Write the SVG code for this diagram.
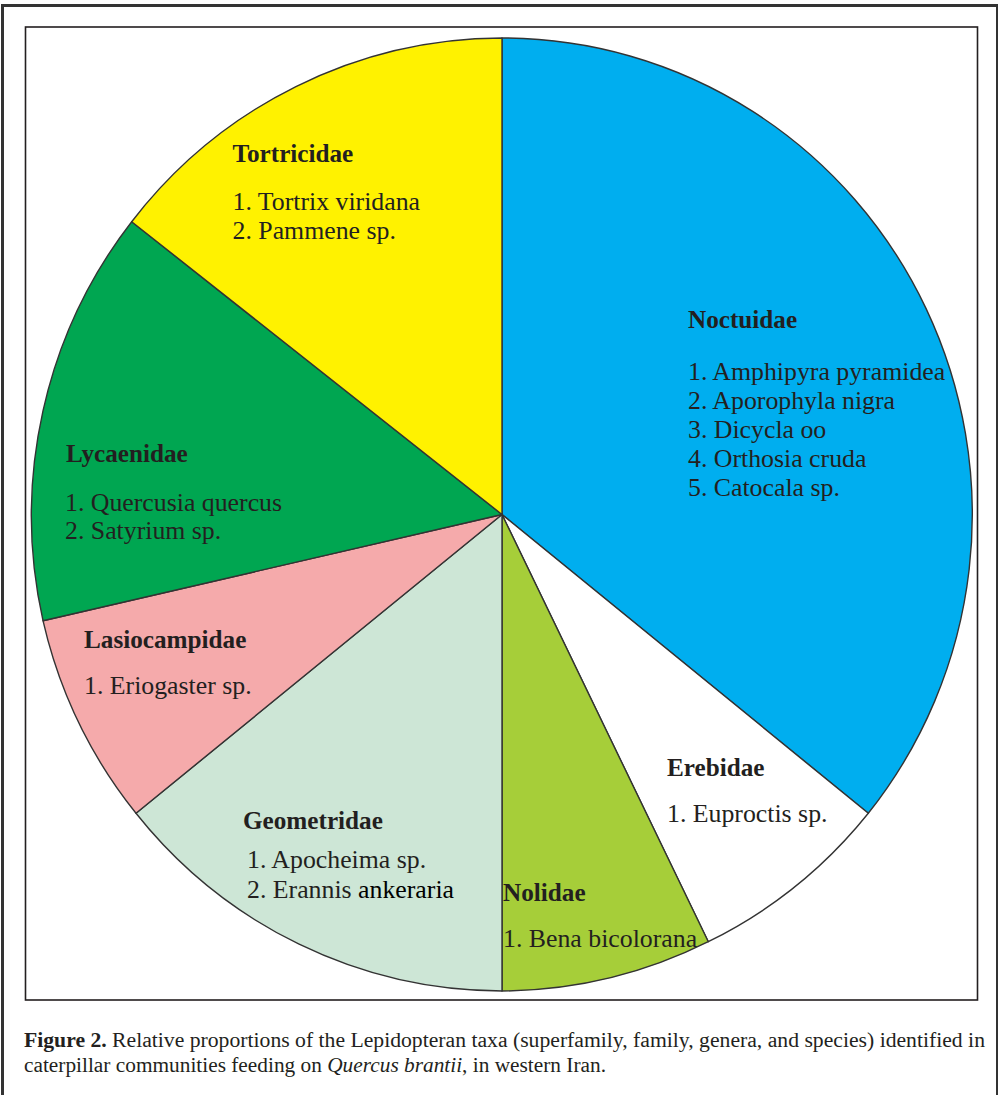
<svg xmlns="http://www.w3.org/2000/svg" width="998" height="1095" viewBox="0 0 998 1095">
<style>
.sl{stroke:#333;stroke-width:1.4;stroke-linejoin:round}
.h{font-family:"Liberation Serif","Times New Roman",serif;font-weight:bold;font-size:25.2px;fill:#231F20}
.t{font-family:"Liberation Serif","Times New Roman",serif;font-size:25.8px;fill:#231F20}
.c{font-family:"Liberation Serif","Times New Roman",serif;font-size:20px;fill:#231F20}
</style>
<rect x="0" y="0" width="998" height="1095" fill="#fff"/>
<rect x="2.5" y="5.5" width="995" height="1100" fill="none" stroke="#333" stroke-width="3"/>
<rect x="25.5" y="27" width="952" height="973" fill="none" stroke="#231F20" stroke-width="1.6"/>
<g id="noctuidae">
<path class="sl" fill="#00AEEF" d="M502,514.5 L502,38 A470.5,476.5 0 0,1 868.3,813.3 Z"/>
<text class="h" x="688" y="328">Noctuidae</text>
<text class="t" x="688" y="380">1. Amphipyra pyramidea</text>
<text class="t" x="688" y="409">2. Aporophyla nigra</text>
<text class="t" x="688" y="438">3. Dicycla oo</text>
<text class="t" x="688" y="467">4. Orthosia cruda</text>
<text class="t" x="688" y="496">5. Catocala sp.</text>
</g>
<g id="erebidae">
<path class="sl" fill="#FFFFFF" d="M502,514.5 L868.3,813.3 A470.5,476.5 0 0,1 708.3,941.7 Z"/>
<text class="h" x="667" y="776">Erebidae</text>
<text class="t" x="667" y="822">1. Euproctis sp.</text>
</g>
<g id="nolidae">
<path class="sl" fill="#A6CE39" d="M502,514.5 L708.3,941.7 A470.5,476.5 0 0,1 502,991 Z"/>
<text class="h" x="503" y="901">Nolidae</text>
<text class="t" x="503" y="947">1. Bena bicolorana</text>
</g>
<g id="geometridae">
<path class="sl" fill="#CDE6D6" d="M502,514.5 L502,991 A470.5,476.5 0 0,1 136,813.3 Z"/>
<text class="h" x="243" y="829">Geometridae</text>
<text class="t" x="247" y="868">1. Apocheima sp.</text>
<text class="t" x="247" y="898">2. Erannis <tspan fill="#000">ankeraria</tspan></text>
</g>
<g id="lasiocampidae">
<path class="sl" fill="#F5AAAB" d="M502,514.5 L136,813.3 A470.5,476.5 0 0,1 43,620.7 Z"/>
<text class="h" x="84" y="648">Lasiocampidae</text>
<text class="t" x="84" y="694">1. Eriogaster sp.</text>
</g>
<g id="lycaenidae">
<path class="sl" fill="#00A651" d="M502,514.5 L43,620.7 A470.5,476.5 0 0,1 131.7,221.7 Z"/>
<text class="h" x="66" y="462">Lycaenidae</text>
<text class="t" x="65" y="511">1. Quercusia quercus</text>
<text class="t" x="65" y="538.5">2. Satyrium sp.</text>
</g>
<g id="tortricidae">
<path class="sl" fill="#FFF200" d="M502,514.5 L131.7,221.7 A470.5,476.5 0 0,1 502,38 Z"/>
<text class="h" x="232.5" y="162">Tortricidae</text>
<text class="t" x="232.5" y="210">1. Tortrix viridana</text>
<text class="t" x="232.5" y="238.5">2. Pammene sp.</text>
</g>
<g id="connectors"></g>
<g id="caption">
<text class="c" x="24" y="1047" textLength="961" lengthAdjust="spacingAndGlyphs"><tspan font-weight="bold">Figure 2.</tspan> Relative proportions of the Lepidopteran taxa (superfamily, family, genera, and species) identified in</text>
<text class="c" x="24" y="1072" textLength="582" lengthAdjust="spacingAndGlyphs">caterpillar communities feeding on <tspan font-style="italic">Quercus brantii</tspan>, in western Iran.</text>
</g>
</svg>
